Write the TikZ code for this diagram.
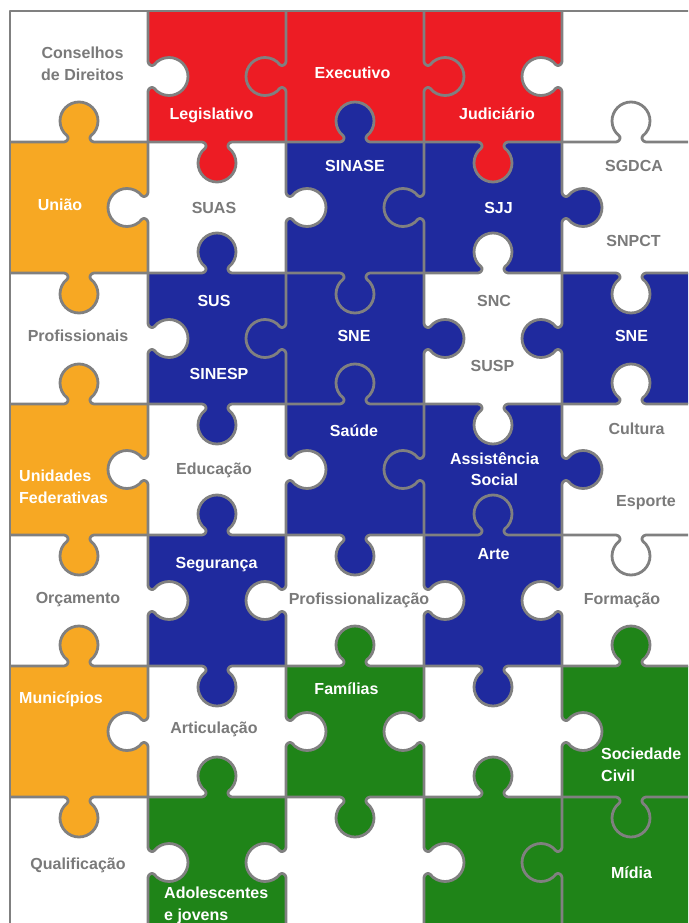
\documentclass[tikz,border=0pt]{standalone}
\usepackage{fontspec}
\setmainfont{Liberation Sans}

\definecolor{pzred}{RGB}{237,28,36}
\definecolor{pzblue}{RGB}{31,42,158}
\definecolor{pzorange}{RGB}{247,168,35}
\definecolor{pzgreen}{RGB}{31,132,24}
\definecolor{pzline}{RGB}{128,128,128}
\definecolor{pztext}{RGB}{122,122,122}

% one tab of a piece, drawn along the local x axis, sticking out to local +y
\newcommand{\knobcurve}{-- (-15,0) .. controls (-12,0) and (-9.5,4.3) .. (-11.7,6)
  .. controls (-16.3,9.6) and (-19,15.15) .. (-19,21)
  .. controls (-19,31.5) and (-10.5,40) .. (0,40)
  .. controls (10.5,40) and (19,31.5) .. (19,21)
  .. controls (19,15.15) and (16.3,9.6) .. (11.7,6)
  .. controls (9.5,4.3) and (12,0) .. (15,0)}

% seam between two pieces: centre x, centre y, rotation, half length, tab colour
\newcommand{\jigedge}[5]{%
  \begin{scope}[shift={(#1,#2)}, rotate=#3]
    \fill[#5] (-15,0) \knobcurve -- cycle;
    \draw[seam] (-#4,0) \knobcurve -- (#4,0);
  \end{scope}}

\begin{document}
\begin{tikzpicture}[x=1pt, y=-1pt,
  seam/.style={draw=pzline, line width=2.8pt, line join=round, line cap=square},
  lbl/.style={font=\bfseries\fontsize{16}{21.5}\selectfont, inner sep=0pt,
              anchor=north, align=center},
  ontint/.style={lbl, text=white},
  onwhite/.style={lbl, text=pztext}
]
  \useasboundingbox (0,0) rectangle (688,923);
  \clip (0,0) rectangle (688,923);

  % pieces
  \foreach \cw [count=\r] in {{white,pzred,pzred,pzred,white},
                              {pzorange,white,pzblue,pzblue,white},
                              {white,pzblue,pzblue,white,pzblue},
                              {pzorange,white,pzblue,pzblue,white},
                              {white,pzblue,white,pzblue,white},
                              {pzorange,white,pzgreen,white,pzgreen},
                              {white,pzgreen,white,pzgreen,pzgreen}}
    \foreach \cc [count=\c] in \cw
      \fill[\cc] ({10+138*(\c-1)},{11+131*(\r-1)}) rectangle ++(138,131);

  % seams between rows (0 = tab down, 180 = tab up)
  \foreach \x/\y/\rot/\col in {
      79/142/180/pzorange, 217/142/0/pzred, 355/142/180/pzblue, 493/142/0/pzred, 631/142/180/white,
      79/273/0/pzorange, 217/273/180/pzblue, 355/273/0/pzblue, 493/273/180/white, 631/273/0/white,
      79/404/180/pzorange, 217/404/0/pzblue, 355/404/180/pzblue, 493/404/0/white, 631/404/180/white,
      79/535/0/pzorange, 217/535/180/pzblue, 355/535/0/pzblue, 493/535/180/pzblue, 631/535/0/white,
      79/666/180/pzorange, 217/666/0/pzblue, 355/666/180/pzgreen, 493/666/0/pzblue, 631/666/180/pzgreen,
      79/797/0/pzorange, 217/797/180/pzgreen, 355/797/0/pzgreen, 493/797/180/pzgreen, 631/797/0/pzgreen}
    \jigedge{\x}{\y}{\rot}{69}{\col};

  % seams between columns (90 = tab right, -90 = tab left)
  \foreach \x/\y/\rot/\col in {
      148/76.5/90/white, 286/76.5/-90/pzred, 424/76.5/90/pzred, 562/76.5/-90/white,
      148/207.5/-90/white, 286/207.5/90/white, 424/207.5/-90/pzblue, 562/207.5/90/pzblue,
      148/338.5/90/white, 286/338.5/-90/pzblue, 424/338.5/90/pzblue, 562/338.5/-90/pzblue,
      148/469.5/-90/white, 286/469.5/90/white, 424/469.5/-90/pzblue, 562/469.5/90/pzblue,
      148/600.5/90/white, 286/600.5/-90/white, 424/600.5/90/white, 562/600.5/-90/white,
      148/731.5/-90/white, 286/731.5/90/white, 424/731.5/-90/white, 562/731.5/90/white,
      148/862.5/90/white, 286/862.5/-90/white, 424/862.5/90/white, 562/862.5/-90/pzgreen}
    \jigedge{\x}{\y}{\rot}{65.5}{\col};

  % outer frame
  \draw[seam] (10,928) -- (10,11) -- (700,11) -- (700,928);

  % labels
  \node[onwhite] (conselhos) at (82.5,47) {Conselhos\\de Direitos};
  \node[ontint] (legislativo) at (211.5,108) {Legislativo};
  \node[ontint] (executivo) at (352.5,67) {Executivo};
  \node[ontint] (judiciario) at (497,108) {Judiciário};

  \node[ontint] (uniao) at (60,199) {União};
  \node[onwhite] (suas) at (214,202) {SUAS};
  \node[ontint] (sinase) at (355,160) {SINASE};
  \node[ontint] (sjj) at (498.5,202) {SJJ};
  \node[onwhite] (sgdca) at (634,160) {SGDCA};
  \node[onwhite] (snpct) at (633.5,235) {SNPCT};

  \node[onwhite] (profissionais) at (78,330) {Profissionais};
  \node[ontint] (sus) at (214,295) {SUS};
  \node[ontint] (sinesp) at (219,368) {SINESP};
  \node[ontint] (sneA) at (354,330) {SNE};
  \node[onwhite] (snc) at (494,295) {SNC};
  \node[onwhite] (susp) at (492.5,360) {SUSP};
  \node[ontint] (sneB) at (631.5,330) {SNE};

  \node[ontint, anchor=north west, align=left] (unidades) at (19,470) {Unidades\\Federativas};
  \node[onwhite] (educacao) at (214,463) {Educação};
  \node[ontint] (saude) at (354,425) {Saúde};
  \node[ontint] (assist) at (494.5,452) {Assistência\\Social};
  \node[onwhite] (cultura) at (636.5,423) {Cultura};
  \node[onwhite] (esporte) at (646,495) {Esporte};

  \node[onwhite] (orcamento) at (78,592) {Orçamento};
  \node[ontint] (seguranca) at (216.5,557) {Segurança};
  \node[onwhite] (profiss) at (359,593) {Profissionalização};
  \node[ontint] (arte) at (493.5,548) {Arte};
  \node[onwhite] (formacao) at (622,593) {Formação};

  \node[ontint, anchor=north west] (municipios) at (19,692) {Municípios};
  \node[onwhite] (articulacao) at (214,722) {Articulação};
  \node[ontint] (familias) at (346.5,683) {Famílias};
  \node[ontint, anchor=north west, align=left] (sociedade) at (601,748) {Sociedade\\Civil};

  \node[onwhite] (qualificacao) at (78,858) {Qualificação};
  \node[ontint, anchor=north west, align=left] (adolescentes) at (164,887) {Adolescentes\\e jovens};
  \node[ontint] (midia) at (631.5,867) {Mídia};
\end{tikzpicture}
\end{document}
